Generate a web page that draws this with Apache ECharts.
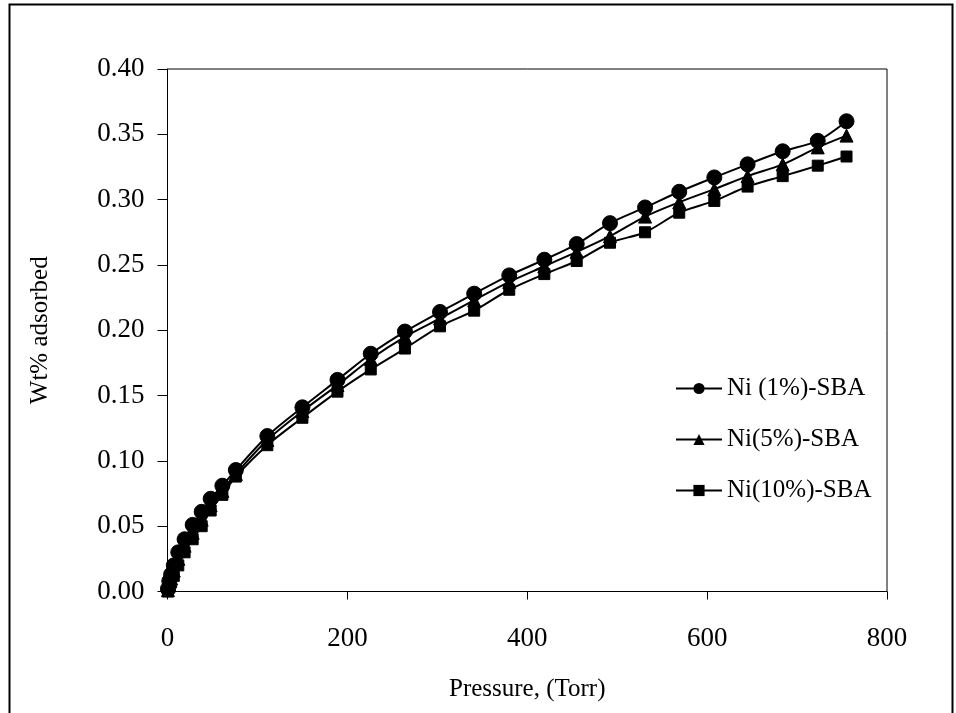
<!DOCTYPE html>
<html>
<head>
<meta charset="utf-8">
<script src="https://cdn.jsdelivr.net/npm/echarts@6/dist/echarts.min.js"></script>
<style>
html,body{margin:0;padding:0;background:#fff;}
#chart{width:956px;height:713px;}
</style>
</head>
<body>
<div id="chart"></div>
<script>
var pressure = [0.5, 2, 4, 7, 12, 19, 28, 38, 48, 61, 76, 111, 150, 189, 226, 264, 303, 341, 380, 419, 455, 492, 531, 569, 608, 645, 684, 723, 755];
var ni1 = [0.002, 0.008, 0.013, 0.020, 0.030, 0.040, 0.051, 0.061, 0.071, 0.081, 0.093, 0.119, 0.141, 0.162, 0.182, 0.199, 0.214, 0.228, 0.242, 0.254, 0.266, 0.282, 0.294, 0.306, 0.317, 0.327, 0.337, 0.345, 0.360];
var ni5 = [0.001, 0.005, 0.010, 0.016, 0.025, 0.035, 0.045, 0.055, 0.066, 0.077, 0.090, 0.116, 0.138, 0.158, 0.178, 0.195, 0.209, 0.223, 0.237, 0.249, 0.260, 0.272, 0.287, 0.298, 0.308, 0.318, 0.327, 0.340, 0.349];
var ni10 = [0.000, 0.003, 0.007, 0.012, 0.020, 0.030, 0.040, 0.050, 0.062, 0.074, 0.088, 0.112, 0.133, 0.153, 0.170, 0.186, 0.203, 0.215, 0.231, 0.243, 0.253, 0.267, 0.275, 0.290, 0.299, 0.310, 0.318, 0.326, 0.333];
var seriesNames = ['Ni (1%)-SBA', 'Ni(5%)-SBA', 'Ni(10%)-SBA'];
var xTicks = [0, 200, 400, 600, 800];

function pairs(xs, ys){ return xs.map(function(x,i){ return [x, ys[i]]; }); }

var font = '"Liberation Serif", "Times New Roman", serif';
var chart = echarts.init(document.getElementById('chart'));
function mk(name, data, symbol, size){
  return {
    name: name, type: 'line', data: pairs(pressure, data),
    smooth: 0.3, symbol: symbol, symbolSize: size, showSymbol: true,
    lineStyle: {color: '#000', width: 2},
    itemStyle: {color: '#000', borderColor: '#000'},
    z: 3
  };
}
chart.setOption({
  animation: false,
  backgroundColor: '#fff',
  graphic: [{
    type: 'rect', left: 7, top: 2, z: -1,
    shape: {width: 943, height: 730},
    style: {fill: 'none', stroke: '#000', lineWidth: 2}
  }],
  grid: {left: 167.5, right: 69, top: 69, bottom: 121.5, show: true, borderColor: '#000', borderWidth: 1, backgroundColor: 'transparent'},
  legend: {
    orient: 'vertical', left: 670, top: 371, itemGap: 26,
    itemWidth: 46, itemHeight: 14,
    data: seriesNames,
    textStyle: {fontFamily: font, fontSize: 25, color: '#000'},
    itemStyle: {color: '#000'}
  },
  xAxis: {
    type: 'value', min: xTicks[0], max: xTicks[xTicks.length-1], interval: 200,
    name: 'Pressure, (Torr)', nameLocation: 'middle', nameGap: 85,
    nameTextStyle: {fontFamily: font, fontSize: 25, color: '#000'},
    axisLine: {onZero: false, lineStyle: {color: '#000', width: 1}},
    axisTick: {inside: false, length: 8, lineStyle: {color: '#000'}},
    axisLabel: {fontFamily: font, fontSize: 27, color: '#000', margin: 34},
    splitLine: {show: false}
  },
  yAxis: {
    type: 'value', min: 0, max: 0.4, interval: 0.05,
    name: 'Wt% adsorbed', nameLocation: 'middle', nameGap: 115,
    nameTextStyle: {fontFamily: font, fontSize: 25, color: '#000'},
    axisLine: {show: true, lineStyle: {color: '#000', width: 1}},
    axisTick: {show: true, inside: false, length: 10, lineStyle: {color: '#000'}},
    axisLabel: {fontFamily: font, fontSize: 27, color: '#000', margin: 23, formatter: function(v){ return v.toFixed(2); }},
    splitLine: {show: false}
  },
  series: [
    mk(seriesNames[0], ni1, 'circle', 15),
    mk(seriesNames[1], ni5, 'triangle', 13),
    mk(seriesNames[2], ni10, 'rect', 11)
  ]
});
</script>
</body>
</html>
